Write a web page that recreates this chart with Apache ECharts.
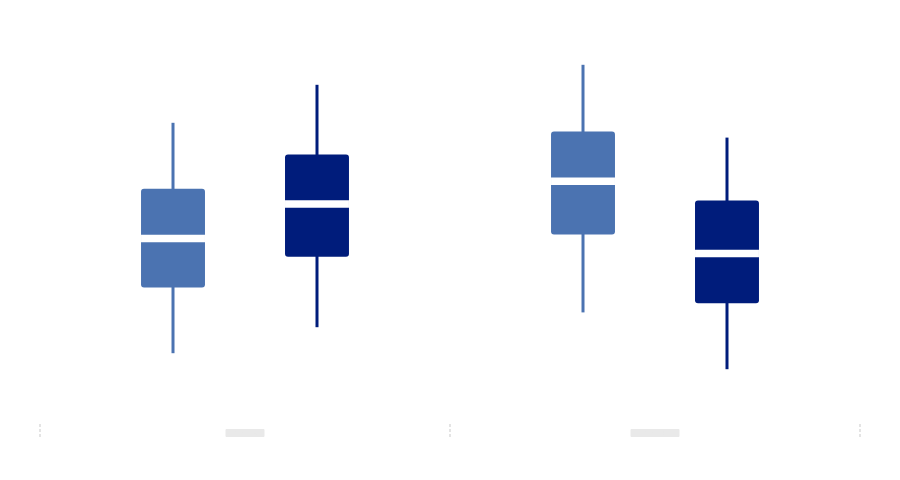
<!DOCTYPE html>
<html>
<head>
<meta charset="utf-8">
<script src="https://cdn.jsdelivr.net/npm/echarts@6/dist/echarts.min.js"></script>
<style>
  html, body { margin: 0; padding: 0; background: #fff; }
  #chart { width: 900px; height: 480px; }
</style>
</head>
<body>
<div id="chart"></div>
<script>
// categories on the x axis
let categories = ["Group A", "Group B"];

// [min, Q1, median, Q3, max] per category
let seriesLight = [
	[17.7, 34.1, 46.4, 58.8, 75.3],
	[27.9, 47.4, 60.7, 73.1, 89.8]
];
let seriesDark = [
	[24.2, 41.8, 55.0, 67.4, 84.8],
	[13.7, 30.2, 42.6, 55.9, 71.6]
];

let colorLight = "#4b73b1";
let colorDark = "#001c7b";

/**
 * 绘制单个箱体
 * @param {Number} shift 相对类目中心的偏移（带宽比例）
 * @param {String} color 颜色
 */
let boxRenderer = (shift, color) => (params, api) => {
	let idx = api.value(0);
	let band = api.size([1, 0])[0];
	let cx = api.coord([idx, 0])[0] + shift * band;
	let half = band * 0.078;
	let yMin = api.coord([idx, api.value(1)])[1];
	let yQ1 = api.coord([idx, api.value(2)])[1];
	let yMed = api.coord([idx, api.value(3)])[1];
	let yQ3 = api.coord([idx, api.value(4)])[1];
	let yMax = api.coord([idx, api.value(5)])[1];
	return {
		type: "group",
		children: [{
			type: "line",
			shape: { x1: cx, y1: yMax, x2: cx, y2: yMin },
			style: { stroke: color, lineWidth: 3 }
		}, {
			type: "rect",
			shape: { x: cx - half, y: yQ3, width: half * 2, height: yQ1 - yQ3, r: 3 },
			style: { fill: color }
		}, {
			type: "line",
			shape: { x1: cx - half, y1: yMed, x2: cx + half, y2: yMed },
			style: { stroke: "#ffffff", lineWidth: 7.5 }
		}]
	};
};

let toRows = list => list.map((item, i) => [i].concat(item));

let chart = echarts.init(document.getElementById("chart"));
chart.setOption({
	animation: false,
	grid: { left: 40, right: 40, top: 24, bottom: 56, containLabel: false, outerBoundsMode: "none" },
	xAxis: {
		type: "category",
		data: categories,
		boundaryGap: true,
		axisLine: { show: false },
		axisTick: {
			show: true,
			interval: 0,
			length: 15,
			lineStyle: { color: "#e4e4e4", width: 2, type: [3, 2] }
		},
		axisLabel: {
			interval: 0,
			margin: 5,
			formatter: (value, index) => (index === 0 ? "{a|" : "{b|") + value + "}",
			rich: {
				a: { width: 39, height: 8, lineHeight: 8, fontSize: 6, color: "#e9e9e9", backgroundColor: "#e9e9e9", borderRadius: 1, align: "center" },
				b: { width: 49, height: 8, lineHeight: 8, fontSize: 6, color: "#e9e9e9", backgroundColor: "#e9e9e9", borderRadius: 1, align: "center" }
			}
		},
		splitLine: { show: false }
	},
	yAxis: {
		type: "value",
		min: 0,
		max: 100,
		show: false
	},
	series: [{
		name: "light",
		type: "custom",
		renderItem: boxRenderer(-0.1756, colorLight),
		encode: { x: 0, y: [1, 2, 3, 4, 5] },
		data: toRows(seriesLight)
	}, {
		name: "dark",
		type: "custom",
		renderItem: boxRenderer(0.1756, colorDark),
		encode: { x: 0, y: [1, 2, 3, 4, 5] },
		data: toRows(seriesDark)
	}]
});
</script>
</body>
</html>
